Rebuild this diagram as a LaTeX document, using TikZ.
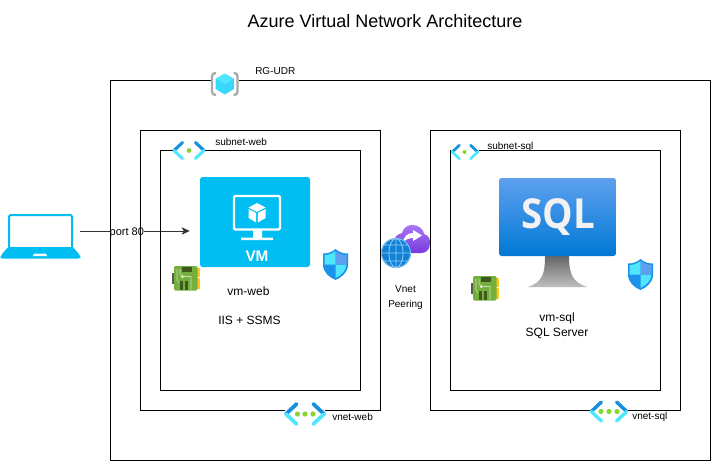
\documentclass[tikz,border=0pt]{standalone}
\usepackage{fontspec}
\setmainfont{Liberation Sans}
\newfontfamily\sqlfont{Open Sans}
\usetikzlibrary{arrows.meta}
\definecolor{azcyan}{HTML}{00BEF2}
\definecolor{chevdark}{HTML}{1490DF}
\definecolor{chevlight}{HTML}{50E6FF}
\definecolor{dotgreen}{HTML}{86D633}
\definecolor{boardgreen}{HTML}{76B03C}
\definecolor{boarddark}{HTML}{3E5A1F}
\definecolor{gold}{HTML}{FFC61E}
\definecolor{shieldA}{HTML}{1B93EB}
\definecolor{shieldB}{HTML}{50E6FF}
\definecolor{shieldC}{HTML}{5EA0EF}
\definecolor{purpleA}{HTML}{A67AF4}
\definecolor{purpleB}{HTML}{773ADC}
\definecolor{globeblue}{HTML}{1380D8}
\definecolor{globeline}{HTML}{8CCDF7}
\definecolor{sqltop}{HTML}{5EA0EF}
\definecolor{sqlbottom}{HTML}{0078D4}
\definecolor{bracket}{HTML}{A8A8A8}
\tikzset{
  frame/.style={draw=black,line width=.75pt,fill=none},
  lbl/.style={inner sep=0pt,font=\fontsize{7.5pt}{9pt}\selectfont,anchor=west},
  lblc/.style={inner sep=0pt,font=\fontsize{9pt}{11pt}\selectfont,align=center},
  chev/.pic={
    \fill[white] (-16,-9) rectangle (16,9);
    \draw[chevdark,line width=#1,line cap=round] (-15,0)--(-6.5,-8);
    \draw[chevlight,line width=#1,line cap=round] (-15,0)--(-6.5,8);
    \draw[chevdark,line width=#1,line cap=round] (15,0)--(6.5,-8);
    \draw[chevlight,line width=#1,line cap=round] (15,0)--(6.5,8);
  },
  shieldicon/.pic={
    \fill[shieldA] (0,-15.5) .. controls (4,-12) and (8,-11) .. (12.5,-11) -- (12.5,0) .. controls (12.5,8) and (6,13) .. (0,15.5) .. controls (-6,13) and (-12.5,8) .. (-12.5,0) -- (-12.5,-11) .. controls (-8,-11) and (-4,-12) .. (0,-15.5) -- cycle;
    \fill[shieldB] (0,-13.5) .. controls (-3,-11) and (-7,-9.5) .. (-11,-9.5) -- (-11,0) -- (0,0) -- cycle;
    \fill[shieldB] (0,0) -- (11,0) .. controls (10.5,7) and (5,11) .. (0,13.5) -- cycle;
    \fill[shieldC] (0,-13.5) .. controls (3,-11) and (7,-9.5) .. (11,-9.5) -- (11,0) -- (0,0) -- cycle;
  },
  nicicon/.pic={
    \fill[black!65] (0,7) rectangle (2.8,18);
    \fill[gold] (24,2) rectangle (28,10.5);
    \fill[gold] (24,12) rectangle (28,22.5);
    \fill[boardgreen,rounded corners=1pt] (2,0) rectangle (25.5,24.5);
    \fill[boarddark] (10,1) rectangle (20,6);
    \fill[boarddark] (8,15) rectangle (10.5,24);
    \fill[boarddark] (13,15) rectangle (15.5,24);
    \fill[white] (10.5,10.5) circle (1.5);
    \draw[white!60!boardgreen,line width=.4pt] (5,3)--(5,14)--(7,17) (8,3)--(8,8)--(10.5,10.5)--(19,10.5)--(19,24);
  }
}
\begin{document}
\begin{tikzpicture}[x=.75pt,y=-.75pt]
\useasboundingbox (0,0) rectangle (711,461);
\fill[white] (0,0) rectangle (711,461);

% title
\node[inner sep=0pt,font=\fontsize{13.5pt}{16pt}\selectfont] (title) at (385,21) {Azure Virtual Network Architecture};

% laptop
\node[inner sep=0pt,minimum width=60pt,minimum height=40.5pt] (laptop) at (40,231) {};
\draw[azcyan,line width=1.5pt,rounded corners=1.5pt] (9,248) -- (9,215) -- (72,215) -- (72,248);
\fill[azcyan,rounded corners=1.5pt] (8,247) -- (73,247) -- (80.5,256) -- (80.5,258.5) -- (0.5,258.5) -- (0.5,256) -- cycle;
\fill[white] (34,253.5) -- (46,253.5) -- (47,256) -- (33,256) -- cycle;

% VM
\node[inner sep=0pt,minimum width=82.5pt,minimum height=67.5pt,fill=azcyan,rounded corners=2pt] (vm) at (255,222) {};
\draw[white,line width=1.7pt,rounded corners=1pt] (234,196) rectangle (280,229.5);
\fill[white] (253,230) rectangle (262,238) (241,237.5) rectangle (273,240);
\fill[white] (257,203) -- (265.5,207.5) -- (257,212) -- (248.5,207.5) -- cycle;
\fill[white] (248.5,209) -- (256.2,213) -- (256.2,222.5) -- (248.5,218) -- cycle;
\fill[white] (265.5,209) -- (257.8,213) -- (257.8,222.5) -- (265.5,218) -- cycle;
\node[inner sep=0pt,text=white,font=\fontsize{11.5pt}{13pt}\selectfont\bfseries] (vmtext) at (257,256) {VM};

% connector
\draw[line width=.75pt,draw=black!80,-{Stealth[length=6pt,width=5.5pt,inset=1.5pt]},shorten >=7.5pt] (laptop.east) -- (laptop.east -| vm.west)
  node[pos=.39,inner sep=0pt,fill=white,text=black,yshift=-1pt,font=\fontsize{8.25pt}{10pt}\selectfont] (port) {port 80};

% frames
\node[frame,inner sep=0pt,minimum width=450pt,minimum height=285pt] (rg) at (410.5,270) {};
\node[frame,inner sep=0pt,minimum width=180pt,minimum height=210pt] (vnetweb) at (260,270) {};
\node[frame,inner sep=0pt,minimum width=150pt,minimum height=180pt] (subnetweb) at (260,270) {};
\node[frame,inner sep=0pt,minimum width=187.5pt,minimum height=210pt] (vnetsql) at (555,270) {};
\node[frame,inner sep=0pt,minimum width=157.5pt,minimum height=180pt] (subnetsql) at (555,270) {};

% resource group icon
\fill[white] (211,72) rectangle (239,96);
\draw[bracket,line width=1.7pt,rounded corners=2.5pt] (216,73) -- (212,73) -- (212,95) -- (216,95);
\draw[bracket,line width=1.7pt,rounded corners=2.5pt] (233.5,73) -- (237.5,73) -- (237.5,95) -- (233.5,95);
\fill[chevlight] (224.8,73.5) -- (234,78.5) -- (224.8,84) -- (215.6,78.5) -- cycle;
\fill[chevlight!70!azcyan] (215.6,78.5) -- (224.8,84) -- (224.8,94.5) -- (215.6,89) -- cycle;
\fill[chevlight!45!azcyan!90!white] (234,78.5) -- (224.8,84) -- (224.8,94.5) -- (234,89) -- cycle;

% subnet icons
\pic at (189,150.5) {chev=2.3pt};
\fill[dotgreen] (189,150.5) circle (2.4);
\pic[scale=.85] at (465,152) {chev=2pt};
\fill[dotgreen] (464.5,152) circle (2);

% vnet icons
\pic[scale=1.27] at (305,414) {chev=2.8pt};
\fill[dotgreen] (297.5,414) circle (2.6) (305,414) circle (2.6) (313,414) circle (2.6);
\pic[scale=1.18] at (609,411.5) {chev=2.6pt};
\fill[dotgreen] (601,411.5) circle (2.6) (609,411.5) circle (2.6) (617,411.5) circle (2.6);

% NIC icons
\pic at (172,266) {nicicon};
\pic at (471,276) {nicicon};

% shields
\pic at (335.5,264.5) {shieldicon};
\pic at (640.5,274.5) {shieldicon};

% SQL monitor
\shade[top color=black!60,bottom color=black!25] (545,256) -- (569,256) .. controls (569,275) and (573,282) .. (587,287) -- (528,287) .. controls (542,282) and (545,275) .. (545,256) -- cycle;
\node[inner sep=0pt,minimum width=87.75pt,minimum height=58.5pt,top color=sqltop,bottom color=sqlbottom,rounded corners=2pt] (sqlscreen) at (557.5,217) {};
\node[inner sep=0pt,text=white!95!black,font=\fontsize{31pt}{33pt}\selectfont\sqlfont\bfseries,xscale=.93] (sqltext) at (558.5,217) {SQL};

% peering icon
\shade[top color=purpleA,bottom color=purpleB] (393,242) .. controls (395,236) and (398,234) .. (402,233) .. controls (404,226) and (410,224.5) .. (413,225) .. controls (419,225) and (424,230) .. (424,234) .. controls (429,235) and (430.5,240) .. (430,244) .. controls (429.5,250) and (426,253) .. (421,253) -- (398,253) -- cycle;
\fill[white] (413,230) -- (422,235.5) -- (413,241) -- (413,238) .. controls (409,238) and (405,239.5) .. (403,243) .. controls (403,236.5) and (408,233) .. (413,233) -- cycle;
\fill[globeblue] (396,253) circle (15);
\draw[globeline,line width=.6pt] (396,253) circle (14.5) (396,253) ellipse (7 and 14.5) (396,238.5)--(396,267.5) (381.5,253)--(410.5,253) (384,245)--(408,245) (384,261)--(408,261);

% labels
\node[lbl] (rglabel) at (255,71) {RG-UDR};
\node[lbl] (subnetweblabel) at (215,142) {subnet-web};
\node[lbl] (subnetsqllabel) at (487,147) {subnet-sql};
\node[lbl] (vnetweblabel) at (332,416.5) {vnet-web};
\node[lbl] (vnetsqllabel) at (632,416.5) {vnet-sql};
\node[lblc] (vmweb) at (248.5,291) {vm-web};
\node[lblc] (iis) at (249.5,320) {IIS + SSMS};
\node[lblc] (vmsql) at (557,325.5) {vm-sql\\SQL Server};
\node[lbl,anchor=center,align=center,font=\fontsize{7.5pt}{11.25pt}\selectfont] (peer) at (405.5,297.5) {Vnet\\Peering};
\end{tikzpicture}
\end{document}
